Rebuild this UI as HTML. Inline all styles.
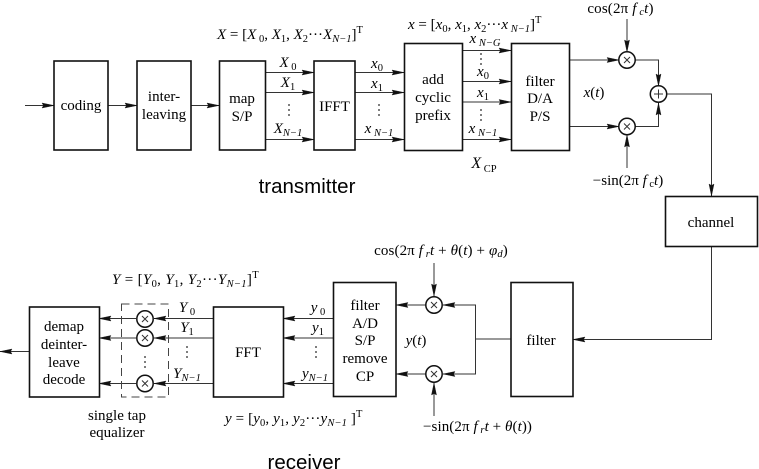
<!DOCTYPE html>
<html><head><meta charset="utf-8"><style>
html,body{margin:0;padding:0;background:#fff}
svg{display:block;filter:blur(0.28px)}
text{font-family:"Liberation Serif",serif;font-size:15px;fill:#000;text-anchor:middle}
.i{font-style:italic}
.s{font-size:10.5px}
.h{font-family:"Liberation Sans",sans-serif;font-size:20.5px}
.b{fill:#fff;stroke:#111;stroke-width:1.6}
.l{fill:none;stroke:#333;stroke-width:1}
</style></head><body>
<svg width="759" height="469" viewBox="0 0 759 469" xmlns="http://www.w3.org/2000/svg">
<defs>
<marker id="a" markerUnits="userSpaceOnUse" markerWidth="14" markerHeight="8" refX="13" refY="4" orient="auto"><path d="M1 1.500L13 4L1 6.500L2.500 4Z" fill="#111" stroke="#111" stroke-width=".4"/></marker>
<g id="x"><circle r="8.2" fill="#fff" stroke="#111" stroke-width="1.5"/><path d="M-3-3L3 3M-3 3L3-3" stroke="#333" stroke-width="1"/></g>
<g id="dots"><circle cy="-5" r=".9" fill="#222"/><circle cy="0" r=".9" fill="#222"/><circle cy="5" r=".9" fill="#222"/></g>
</defs>
<g class="l">
<path d="M25 105.500H54" marker-end="url(#a)"/>
<path d="M108 105.500H137" marker-end="url(#a)"/>
<path d="M191 105.500H219" marker-end="url(#a)"/>
<path d="M265 72.500H314" marker-end="url(#a)"/>
<path d="M265 92.500H314" marker-end="url(#a)"/>
<path d="M265 139.500H314" marker-end="url(#a)"/>
<path d="M355 72.500H404" marker-end="url(#a)"/>
<path d="M355 92.500H404" marker-end="url(#a)"/>
<path d="M355 139.500H404" marker-end="url(#a)"/>
<path d="M462 50.500H511" marker-end="url(#a)"/>
<path d="M462 81.500H511" marker-end="url(#a)"/>
<path d="M462 102H511" marker-end="url(#a)"/>
<path d="M462 139.500H511" marker-end="url(#a)"/>
<path d="M569 60H619" marker-end="url(#a)"/>
<path d="M569 126.500H619" marker-end="url(#a)"/>
<path d="M627 19V52" marker-end="url(#a)"/>
<path d="M627 168V135" marker-end="url(#a)"/>
<path d="M635 60H658.500V86" marker-end="url(#a)"/>
<path d="M635 126.500H658.500V103" marker-end="url(#a)"/>
<path d="M667 94H711.500V196" marker-end="url(#a)"/>
<path d="M711.500 245V339.500H573" marker-end="url(#a)"/>
<path d="M511 339H475"/>
<path d="M475.500 339V305H443" marker-end="url(#a)"/>
<path d="M475.500 339V374H443" marker-end="url(#a)"/>
<path d="M426 305H396" marker-end="url(#a)"/>
<path d="M426 374H396" marker-end="url(#a)"/>
<path d="M434 263V296" marker-end="url(#a)"/>
<path d="M434 416V383" marker-end="url(#a)"/>
<path d="M333 318.500H283" marker-end="url(#a)"/>
<path d="M333 338H283" marker-end="url(#a)"/>
<path d="M333 383.500H283" marker-end="url(#a)"/>
<path d="M213 318.500H154" marker-end="url(#a)"/>
<path d="M213 338H154" marker-end="url(#a)"/>
<path d="M213 383.500H154" marker-end="url(#a)"/>
<path d="M136 318.500H99" marker-end="url(#a)"/>
<path d="M136 338H99" marker-end="url(#a)"/>
<path d="M136 383.500H99" marker-end="url(#a)"/>
<path d="M29 351.500H0" marker-end="url(#a)"/>
</g>
<rect class="b" x="54" y="61" width="54" height="89"/>
<rect class="b" x="137" y="61" width="54" height="89"/>
<rect class="b" x="219.500" y="61" width="46" height="89"/>
<rect class="b" x="314" y="61" width="41" height="89"/>
<rect class="b" x="404.500" y="43.500" width="58" height="107"/>
<rect class="b" x="511.500" y="43.500" width="58" height="107"/>
<rect class="b" x="665.500" y="196.500" width="92" height="50"/>
<rect class="b" x="29.500" y="307" width="70" height="90"/>
<rect class="b" x="213.500" y="307" width="70" height="90"/>
<rect class="b" x="333.500" y="282.500" width="62.500" height="114"/>
<rect class="b" x="511" y="282.500" width="62" height="114"/>
<rect x="121.500" y="304" width="47" height="93" fill="none" stroke="#444" stroke-width="1" stroke-dasharray="8 5"/>
<use href="#x" x="627" y="60"/><use href="#x" x="627" y="126.500"/>
<use href="#x" x="434" y="305"/><use href="#x" x="434" y="374"/>
<use href="#x" x="145" y="319"/><use href="#x" x="145" y="338"/><use href="#x" x="145" y="383.500"/>
<circle cx="658.500" cy="94" r="8.200" fill="#fff" stroke="#111" stroke-width="1.500"/>
<path d="M654 94H663M658.500 89.500V98.500" stroke="#333" stroke-width="1"/>
<use href="#dots" x="289" y="110"/><use href="#dots" x="379" y="110"/><use href="#dots" x="481" y="59"/><use href="#dots" x="481" y="115"/>
<use href="#dots" x="187" y="352"/><use href="#dots" x="145" y="362"/><use href="#dots" x="316" y="352"/>

<text x="81" y="110">coding</text>
<text x="164" y="101">inter-</text><text x="164" y="119">leaving</text>
<text x="242" y="103">map</text><text x="242" y="121">S/P</text>
<text x="334.500" y="111">IFFT</text>
<text x="433" y="84">add</text><text x="433" y="102">cyclic</text><text x="433" y="120">prefix</text>
<text x="540" y="86">filter</text><text x="540" y="103">D/A</text><text x="540" y="121">P/S</text>
<text x="711" y="227">channel</text>
<text x="64" y="331">demap</text><text x="64" y="349">deinter-</text><text x="64" y="367">leave</text><text x="64" y="384">decode</text>
<text x="248" y="357">FFT</text>
<text x="365" y="310">filter</text><text x="365" y="328">A/D</text><text x="365" y="345">S/P</text><text x="365" y="363">remove</text><text x="365" y="381">CP</text>
<text x="541" y="345">filter</text>
<text x="117" y="420">single tap</text><text x="117" y="437">equalizer</text>
<text class="h" x="307" y="193">transmitter</text>
<text class="h" x="304" y="469">receiver</text>

<text x="217" y="39" style="text-anchor:start"><tspan class="i">X</tspan> = [<tspan class="i">X</tspan><tspan class="s" dy="3"> 0</tspan><tspan dy="-3">, </tspan><tspan class="i">X</tspan><tspan class="s" dy="3">1</tspan><tspan dy="-3">, </tspan><tspan class="i">X</tspan><tspan class="s" dy="3">2</tspan><tspan dy="-3">···</tspan><tspan class="i">X</tspan><tspan class="s i" dy="3">N−1</tspan><tspan dy="-3">]</tspan><tspan class="s" dy="-6">T</tspan></text>
<text x="408" y="29" style="text-anchor:start"><tspan class="i">x</tspan> = [<tspan class="i">x</tspan><tspan class="s" dy="3">0</tspan><tspan dy="-3">, </tspan><tspan class="i">x</tspan><tspan class="s" dy="3">1</tspan><tspan dy="-3">, </tspan><tspan class="i">x</tspan><tspan class="s" dy="3">2</tspan><tspan dy="-3">···</tspan><tspan class="i">x</tspan><tspan class="s i" dy="3"> N−1</tspan><tspan dy="-3">]</tspan><tspan class="s" dy="-6">T</tspan></text>
<text x="112" y="284" style="text-anchor:start;letter-spacing:.32px"><tspan class="i">Y</tspan> = [<tspan class="i">Y</tspan><tspan class="s" dy="3">0</tspan><tspan dy="-3">, </tspan><tspan class="i">Y</tspan><tspan class="s" dy="3">1</tspan><tspan dy="-3">, </tspan><tspan class="i">Y</tspan><tspan class="s" dy="3">2</tspan><tspan dy="-3">···</tspan><tspan class="i">Y</tspan><tspan class="s i" dy="3">N−1</tspan><tspan dy="-3">]</tspan><tspan class="s" dy="-6">T</tspan></text>
<text x="225" y="423" style="text-anchor:start;letter-spacing:.12px"><tspan class="i">y</tspan> = [<tspan class="i">y</tspan><tspan class="s" dy="3">0</tspan><tspan dy="-3">, </tspan><tspan class="i">y</tspan><tspan class="s" dy="3">1</tspan><tspan dy="-3">, </tspan><tspan class="i">y</tspan><tspan class="s" dy="3">2</tspan><tspan dy="-3">···</tspan><tspan class="i">y</tspan><tspan class="s i" dy="3">N−1</tspan><tspan dy="-3"> ]</tspan><tspan class="s" dy="-6">T</tspan></text>

<text x="288" y="67"><tspan class="i">X</tspan><tspan class="s" dy="3"> 0</tspan></text>
<text x="288" y="87"><tspan class="i">X</tspan><tspan class="s" dy="3">1</tspan></text>
<text x="288" y="133"><tspan class="i">X</tspan><tspan class="s i" dy="3">N−1</tspan></text>
<text x="377" y="68"><tspan class="i">x</tspan><tspan class="s" dy="3">0</tspan></text>
<text x="377" y="88"><tspan class="i">x</tspan><tspan class="s" dy="3">1</tspan></text>
<text x="379" y="133"><tspan class="i">x</tspan><tspan class="s i" dy="3"> N−1</tspan></text>
<text x="485" y="43"><tspan class="i">x</tspan><tspan class="s i" dy="3"> N−G</tspan></text>
<text x="483" y="76"><tspan class="i">x</tspan><tspan class="s" dy="3">0</tspan></text>
<text x="483" y="97"><tspan class="i">x</tspan><tspan class="s" dy="3">1</tspan></text>
<text x="483" y="133"><tspan class="i">x</tspan><tspan class="s i" dy="3"> N−1</tspan></text>
<text x="484" y="168"><tspan class="i" style="font-size:16px">X</tspan><tspan class="s" dy="4"> CP</tspan></text>
<text x="594" y="97"><tspan class="i">x</tspan>(<tspan class="i">t</tspan>)</text>
<text x="620.500" y="13" style="letter-spacing:.15px">cos(2π <tspan class="i">f</tspan><tspan class="s i" dy="2"> c</tspan><tspan class="i" dy="-2">t</tspan>)</text>
<text x="628" y="185">−sin(2π <tspan class="i">f</tspan><tspan class="s" dy="2"> c</tspan><tspan class="i" dy="-2">t</tspan>)</text>
<text x="187" y="312"><tspan class="i">Y</tspan><tspan class="s" dy="3"> 0</tspan></text>
<text x="187" y="332"><tspan class="i">Y</tspan><tspan class="s" dy="3">1</tspan></text>
<text x="187" y="378"><tspan class="i">Y</tspan><tspan class="s i" dy="3">N−1</tspan></text>
<text x="318" y="312"><tspan class="i">y</tspan><tspan class="s" dy="3"> 0</tspan></text>
<text x="318" y="332"><tspan class="i">y</tspan><tspan class="s" dy="3">1</tspan></text>
<text x="315" y="378"><tspan class="i">y</tspan><tspan class="s i" dy="3">N−1</tspan></text>
<text x="416" y="345"><tspan class="i">y</tspan>(<tspan class="i">t</tspan>)</text>
<text x="441" y="255" style="letter-spacing:.12px">cos(2π <tspan class="i">f</tspan><tspan class="s i" dy="2"> r</tspan><tspan class="i" dy="-2">t</tspan> + <tspan class="i">θ</tspan>(<tspan class="i">t</tspan>) + <tspan class="i">φ</tspan><tspan class="s i" dy="2">d</tspan><tspan dy="-2">)</tspan></text>
<text x="477.500" y="431" style="letter-spacing:.08px">−sin(2π <tspan class="i">f</tspan><tspan class="s i" dy="2"> r</tspan><tspan class="i" dy="-2">t</tspan> + <tspan class="i">θ</tspan>(<tspan class="i">t</tspan>))</text>
</svg>
</body></html>
